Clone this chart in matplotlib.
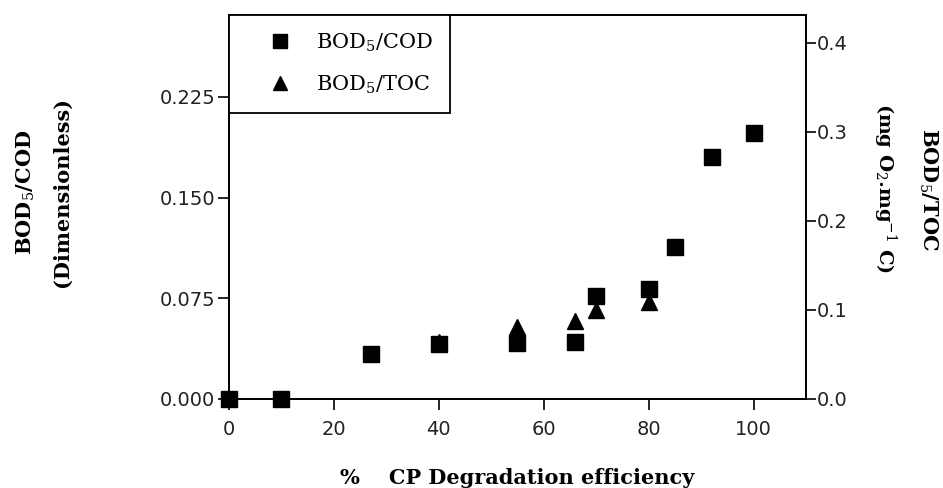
import matplotlib
matplotlib.use("Agg")
import matplotlib.pyplot as plt
from matplotlib.ticker import FixedLocator, FormatStrFormatter

# BOD5/COD (left axis)
cod_x = [0, 10, 27, 40, 55, 66, 70, 80, 85, 92, 100]
cod_y = [0.0, 0.0, 0.0335, 0.041, 0.0415, 0.0425, 0.0767, 0.082, 0.113, 0.180, 0.198]

# BOD5/TOC (right axis)
toc_x = [40, 55, 66, 70, 80]
toc_y = [0.064, 0.081, 0.088, 0.100, 0.109]

left_ticks = [0.0, 0.075, 0.150, 0.225]
right_ticks = [0.0, 0.1, 0.2, 0.3, 0.4]
x_ticks = [0, 20, 40, 60, 80, 100]

serif = "DejaVu Serif"
tickfont = "DejaVu Sans"
plt.rcParams["mathtext.fontset"] = "custom"
plt.rcParams["mathtext.rm"] = serif
plt.rcParams["mathtext.it"] = serif
plt.rcParams["mathtext.bf"] = serif + ":bold"

fig = plt.figure(figsize=(9.43, 4.88), dpi=100)
fig.patch.set_facecolor("white")
ax = fig.add_axes([0.2428, 0.1824, 0.6119, 0.7869])
ax2 = ax.twinx()

ax.set_xlim(0, 110)
ax.set_ylim(0, 0.286)
ax2.set_ylim(0, 0.431)

h1, = ax.plot(cod_x, cod_y, ls="none", marker="s", ms=11.5, color="black",
              clip_on=False, zorder=4, label="BOD$_5$/COD")
h2, = ax2.plot(toc_x, toc_y, ls="none", marker="^", ms=12, color="black",
               clip_on=False, zorder=3, label="BOD$_5$/TOC")

for a in (ax, ax2):
    for s in a.spines.values():
        s.set_linewidth(1.3)
        s.set_color("black")

ax.xaxis.set_major_locator(FixedLocator(x_ticks))
ax.yaxis.set_major_locator(FixedLocator(left_ticks))
ax.yaxis.set_major_formatter(FormatStrFormatter("%.3f"))
ax2.yaxis.set_major_locator(FixedLocator(right_ticks))
ax2.yaxis.set_major_formatter(FormatStrFormatter("%.1f"))

ax.tick_params(axis="both", direction="out", length=8, width=1.2,
               labelsize=14, colors="black", labelcolor="#222222")
ax.tick_params(axis="y", pad=2)
ax.tick_params(axis="x", pad=7)
ax2.tick_params(axis="y", direction="out", length=7, width=1.2,
                labelsize=14, labelcolor="#222222", pad=1)
for lab in ax.get_xticklabels() + ax.get_yticklabels() + ax2.get_yticklabels():
    lab.set_fontfamily(tickfont)

# axis labels
fig.text(0.027, 0.607, "BOD$_5$/COD", rotation=90, ha="center", va="center",
         fontsize=15, fontweight="bold", family=serif)
fig.text(0.066, 0.607, "(Dimensionless)", rotation=90, ha="center", va="center",
         fontsize=15, fontweight="bold", family=serif)
fig.text(0.9385, 0.615, "(mg O$_2$.mg$^{-1}$ C)", rotation=270, ha="center", va="center",
         fontsize=14, fontweight="bold", family=serif)
fig.text(0.984, 0.612, "BOD$_5$/TOC", rotation=270, ha="center", va="center",
         fontsize=15, fontweight="bold", family=serif)
fig.text(0.548, 0.02, "%    CP Degradation efficiency", ha="center", va="center",
         fontsize=15, fontweight="bold", family=serif)

leg = ax2.legend(handles=[h1, h2], loc="upper left", bbox_to_anchor=(0, 1),
                 borderaxespad=0, fancybox=False, frameon=True,
                 prop={"family": serif, "size": 15}, handlelength=3.3,
                 handletextpad=0.1, borderpad=0.8, labelspacing=0.95,
                 markerscale=0.85)
leg.get_frame().set_edgecolor("black")
leg.get_frame().set_linewidth(1.3)
leg.get_frame().set_alpha(1)

fig.savefig("out.png", dpi=100, facecolor="white")
